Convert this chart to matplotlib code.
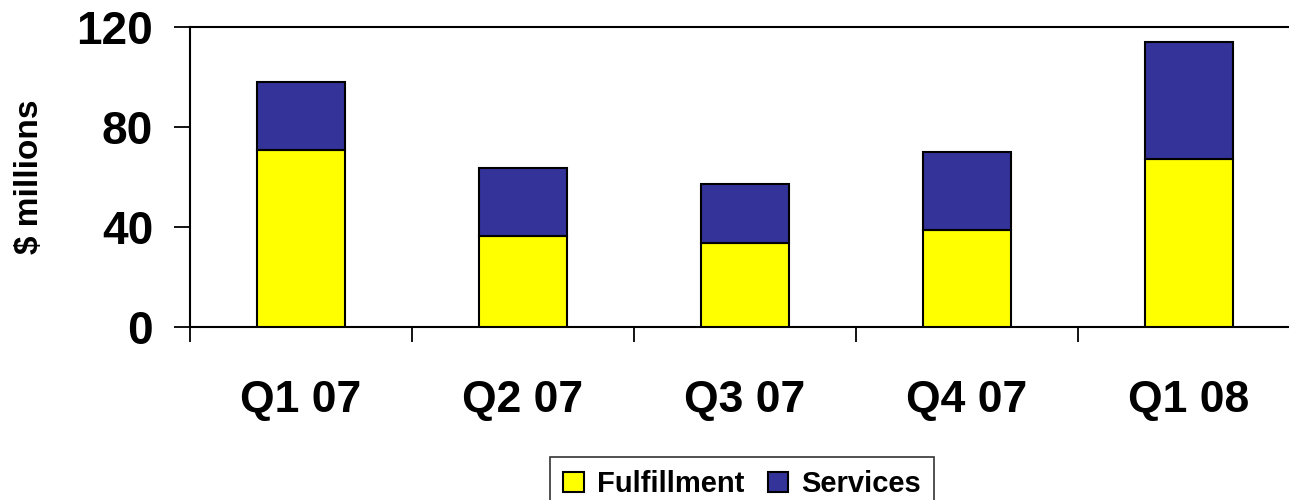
import numpy as np
import matplotlib.pyplot as plt
from matplotlib.ticker import FixedLocator

plt.rcParams['font.family'] = ['Liberation Sans', 'DejaVu Sans']
plt.rcParams['font.weight'] = 'bold'

quarters = ['Q1 07', 'Q2 07', 'Q3 07', 'Q4 07', 'Q1 08']
fulfillment = [70.8, 36.4, 33.5, 38.7, 67.2]
services = [27.3, 27.3, 23.7, 31.4, 46.9]

yellow = '#FFFF00'
navy = '#333399'

fig = plt.figure(figsize=(12.89, 5.0), dpi=100)
ax = fig.add_axes([0.1474, 0.346, 0.8611, 0.600])

x = np.arange(len(quarters))
ax.bar(x, fulfillment, width=0.40, color=yellow, edgecolor='black',
       linewidth=1.5, label='Fulfillment', zorder=3)
ax.bar(x, services, width=0.40, bottom=fulfillment, color=navy,
       edgecolor='black', linewidth=1.5, label='Services', zorder=3)

ax.set_xlim(-0.5, len(quarters) - 0.5)
ax.set_ylim(0, 120)
ax.set_yticks([0, 40, 80, 120])
ax.tick_params(axis='y', direction='out', length=11.5, width=1.3,
               pad=15, labelsize=33)

# category labels sit at bar centres, tick marks sit between categories
ax.set_xticks(x)
ax.set_xticklabels(quarters)
ax.xaxis.set_minor_locator(FixedLocator(np.arange(-0.5, len(quarters), 1.0)))
ax.tick_params(axis='x', which='major', length=0, pad=38, labelsize=32)
ax.tick_params(axis='x', which='minor', direction='out', length=11, width=1.3)

for side in ['left', 'bottom', 'top']:
    ax.spines[side].set_linewidth(1.5)
    ax.spines[side].set_color('black')
ax.spines['right'].set_visible(False)

ax.set_ylabel('$ millions', fontsize=24, fontweight='bold')
ax.yaxis.set_label_coords(-0.131, 0.5)

leg = fig.legend(loc='upper center', bbox_to_anchor=(0.5757, 0.086), ncol=2,
                 fontsize=21, frameon=True, fancybox=False, shadow=False,
                 handlelength=0.7, handleheight=0.7, handletextpad=0.45,
                 columnspacing=0.8, borderpad=0.45, borderaxespad=0)
leg.get_frame().set_edgecolor('black')
leg.get_frame().set_linewidth(1.2)

fig.savefig('out.png', dpi=100)
